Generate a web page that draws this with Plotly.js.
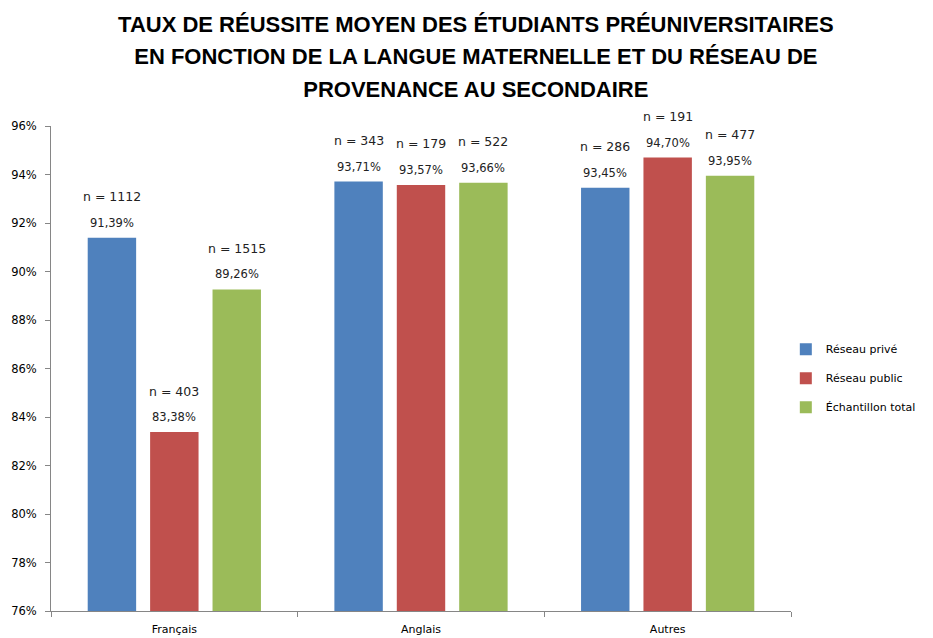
<!DOCTYPE html>
<html><head><meta charset="utf-8">
<script src="https://cdn.plot.ly/plotly-3.0.1.min.js"></script>
<style>body{margin:0;background:#fff}#c{width:933px;height:638px}</style>
</head><body><div id="c"></div>
<script>
const categories = ["Français", "Anglais", "Autres"];
const seriesNames = ["Réseau privé", "Réseau public", "Échantillon total"];
const rates = [
  [0.9139, 0.9371, 0.9345],
  [0.8338, 0.9357, 0.9470],
  [0.8926, 0.9366, 0.9395]
];
const counts = [
  [1112, 343, 286],
  [403, 179, 191],
  [1515, 522, 477]
];
const colors = ["#4F81BD", "#C0504D", "#9BBB59"];
const titleLines = [
  "TAUX DE RÉUSSITE MOYEN DES ÉTUDIANTS PRÉUNIVERSITAIRES",
  "EN FONCTION DE LA LANGUE MATERNELLE ET DU RÉSEAU DE",
  "PROVENANCE AU SECONDAIRE"
];

function pct(v){ return (v*100).toFixed(2).replace('.', ',') + '%'; }

const W = 933, H = 638;
const margin = {l: 51, r: 142, t: 126, b: 27, autoexpand: false};
const bargap = 0.241;
const catPx = (W - margin.l - margin.r) / categories.length;
const slotPx = catPx * (1 - bargap) / seriesNames.length;

const traces = seriesNames.map((name, j) => ({
  type: 'bar',
  name: name,
  x: categories,
  y: rates[j],
  marker: {color: colors[j]},
  legendgroup: 'g' + j,
  cliponaxis: false,
  hoverinfo: 'none'
}));

const annotations = [];
seriesNames.forEach((name, j) => {
  categories.forEach((c, i) => {
    const xs = (j - 1) * slotPx;
    annotations.push({
      x: c, y: rates[j][i], xref: 'x', yref: 'y',
      text: pct(rates[j][i]), showarrow: false,
      xshift: xs, yshift: 15, yanchor: 'middle', xanchor: 'center',
      font: {family: 'DejaVu Sans', size: 11.5, color: '#222'}
    });
    annotations.push({
      x: c, y: rates[j][i], xref: 'x', yref: 'y',
      text: 'n = ' + counts[j][i], showarrow: false,
      xshift: xs, yshift: 41, yanchor: 'middle', xanchor: 'center',
      font: {family: 'DejaVu Sans', size: 12.5, color: '#222'}
    });
  });
});

const layout = {
  width: W, height: H,
  paper_bgcolor: '#fff', plot_bgcolor: '#fff',
  margin: margin,
  barmode: 'group',
  bargap: bargap,
  bargroupgap: 0.224,
  annotations: annotations,
  title: {
    text: titleLines.map(s => "<span style='font-size:22px'>" + s + "</span>").join('<br>'),
    font: {family: 'Liberation Sans Narrow, Arial Narrow, sans-serif', size: 25, color: '#000', weight: 'bold'},
    x: 0.51, xanchor: 'center', y: 0.95, yanchor: 'top', yref: 'container'
  },
  xaxis: {
    showline: true, linecolor: '#868686', linewidth: 1,
    ticks: 'outside', tickson: 'boundaries', ticklen: 5, tickcolor: '#868686',
    tickfont: {family: 'DejaVu Sans', size: 11, color: '#000'},
    ticklabelstandoff: 8,
    showgrid: false, zeroline: false, fixedrange: true
  },
  yaxis: {
    range: [0.76, 0.96], dtick: 0.02, tick0: 0.76, tickformat: '.0%',
    showline: true, linecolor: '#868686', linewidth: 1,
    ticks: 'outside', ticklen: 5, tickcolor: '#868686',
    tickfont: {family: 'DejaVu Sans', size: 11.5, color: '#000'},
    ticklabelstandoff: 6,
    showgrid: false, zeroline: false, fixedrange: true
  },
  legend: {
    x: 0.993, xanchor: 'left', y: 0.48, yanchor: 'middle',
    font: {family: 'DejaVu Sans', size: 11, color: '#000'},
    tracegroupgap: 10, traceorder: 'grouped', itemwidth: 30
  },
  showlegend: true
};

Plotly.newPlot('c', traces, layout, {displayModeBar: false, staticPlot: true});
</script></body></html>
